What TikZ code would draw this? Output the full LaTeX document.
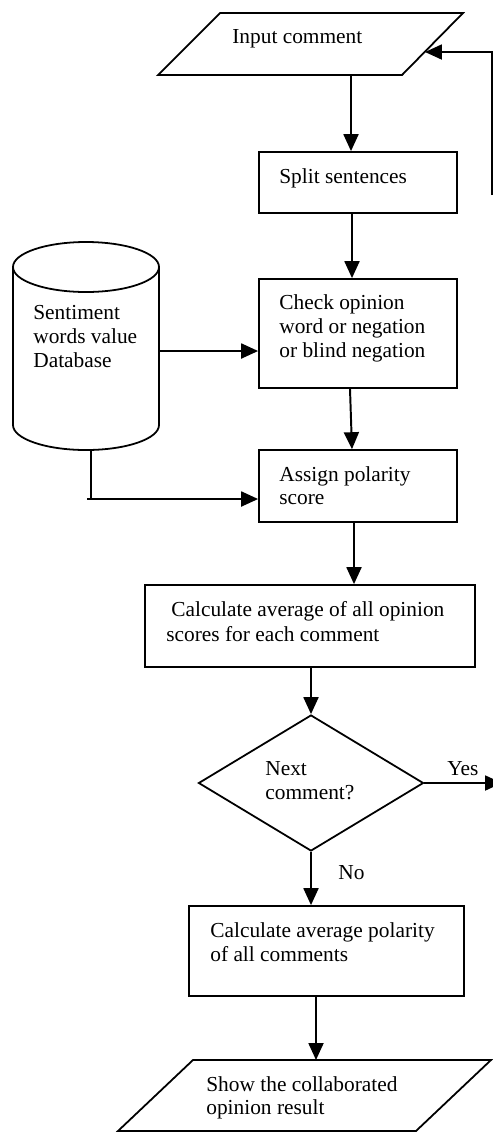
\documentclass[tikz,border=0pt]{standalone}
\usepackage{fontspec}
\setmainfont{Liberation Serif}
\usetikzlibrary{arrows.meta,shapes.geometric}
\newdimen\pu \pu=0.5615pt
\tikzset{
  box/.style={draw, line width=1pt, inner sep=0pt, rectangle},
  shp/.style={draw, line width=1pt, line join=miter},
  arr/.style={line width=1.1pt, -{Triangle[length=9.5pt,width=8.4pt]}},
  ln/.style={line width=1.1pt},
  txt/.style={inner sep=0pt, anchor=base west, font=\fontsize{12}{13.5}\selectfont}
}
\begin{document}
\begin{tikzpicture}[x=0.5615pt,y=-0.5615pt]
\useasboundingbox (0,0) rectangle (493,1132);
% input parallelogram
\draw[shp] (220,13) -- (463,13) -- (402,75) -- (158,75) -- cycle;
\coordinate (inS) at (351,75);
\coordinate (inR) at (425,52);
\node[txt] (tin) at (232,43) {Input comment};
% boxes
\node[box, minimum width=198*\pu, minimum height=61*\pu] (split) at (358,182.5) {};
\node[box, minimum width=198*\pu, minimum height=109*\pu] (check) at (358,333.5) {};
\node[box, minimum width=198*\pu, minimum height=72*\pu] (assign) at (358,486) {};
\node[box, minimum width=330*\pu, minimum height=82*\pu] (calc) at (310,626) {};
\node[draw, line width=1pt, diamond, inner sep=0pt, minimum width=225*\pu, minimum height=136*\pu] (dia) at (311,783) {};
\node[box, minimum width=275*\pu, minimum height=90*\pu] (avg) at (326.5,951) {};
% output parallelogram
\draw[shp] (193,1060) -- (491,1060) -- (416,1131) -- (118,1131) -- cycle;
\coordinate (outN) at (316,1060);
% cylinder
\draw[shp] (86,267) ellipse [x radius=73*\pu, y radius=25*\pu];
\draw[shp] (13,267) -- (13,425) arc[start angle=180, end angle=360, x radius=73*\pu, y radius=25*\pu] -- (159,267);
\coordinate (cylR) at (159,351);
\coordinate (cylB) at (91,450);
\coordinate (elbow) at (91,499);
\coordinate (elbowL) at (87,499);
% texts
\node[txt] (t1) at (279,183) {Split sentences};
\node[txt] (t2a) at (279,309) {Check opinion};
\node[txt] (t2b) at (279,333) {word or negation};
\node[txt] (t2c) at (279,357) {or blind negation};
\node[txt] (tda) at (33,319) {Sentiment};
\node[txt] (tdb) at (33,343) {words value};
\node[txt] (tdc) at (33,367) {Database};
\node[txt] (t3a) at (279,481) {Assign polarity};
\node[txt] (t3b) at (279,504) {score};
\node[txt] (t4a) at (171,616) {Calculate average of all opinion};
\node[txt] (t4b) at (166,641) {scores for each comment};
\node[txt] (t5a) at (265,775) {Next};
\node[txt] (t5b) at (265,799) {comment?};
\node[txt] (tyes) at (447,775) {Yes};
\node[txt] (tno) at (338,879) {No};
\node[txt] (t6a) at (210,937) {Calculate average polarity};
\node[txt] (t6b) at (210,961) {of all comments};
\node[txt] (t7a) at (206,1091) {Show the collaborated};
\node[txt] (t7b) at (206,1114) {opinion result};
% connectors
\draw[arr] (inS) -- (inS |- split.north);
\draw[arr] ([xshift=-6*\pu]split.south) -- ([xshift=-6*\pu]check.north);
\draw[arr] ([xshift=-8*\pu]check.south) -- ([xshift=-6*\pu]assign.north);
\draw[arr] ([xshift=-4*\pu]assign.south) -- ([xshift=44*\pu]calc.north);
\draw[arr] (calc.south -| dia.north) -- (dia.north);
\draw[arr] (dia.south) -- (dia.south |- avg.north);
\draw[arr] ([xshift=-10.5*\pu]avg.south) -- (outN);
\draw[arr] (cylR) -- (cylR -| check.west);
\draw[ln] (cylB) -- (elbow);
\draw[arr] (elbowL) -- (elbowL -| assign.west);
\coordinate (fbS) at (492,195);
\draw[arr] (fbS) |- (inR);
\coordinate (yesE) at (502,783);
\draw[arr] (dia.east) -- (yesE);
\end{tikzpicture}
\end{document}
